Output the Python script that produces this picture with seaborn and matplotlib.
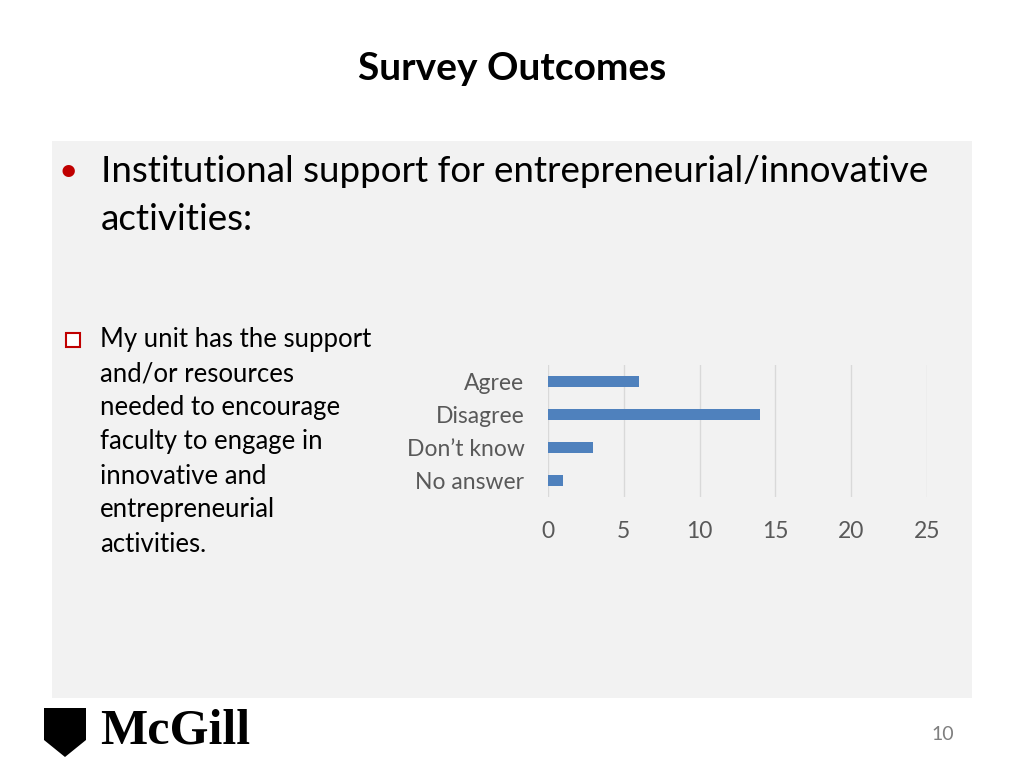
import matplotlib.pyplot as plt
import matplotlib.patches as patches
import seaborn as sns
import pandas as pd

# data
categories = ["Agree", "Disagree", "Don\u2019t know", "No answer"]
counts = [6, 14, 3, 1]
x_ticks = [0, 5, 10, 15, 20, 25]

plt.rcParams["font.family"] = "Lato"
fig = plt.figure(figsize=(10.24, 7.68), dpi=100)
fig.patch.set_facecolor("white")

# grey content panel (kept behind the chart axes)
fig.patches.append(patches.Rectangle((52 / 1024, 1 - 698 / 768), 920 / 1024, 557 / 768,
                                     transform=fig.transFigure, facecolor="#f2f2f2",
                                     edgecolor="none", zorder=-5))

fig.text(0.5, 1 - 68 / 768, "Survey Outcomes", ha="center", va="center",
         fontsize=28, fontweight="bold", color="black")
fig.text(58 / 1024, 1 - 172 / 768, "\u2022", color="#c00000", fontsize=24, va="center")
fig.text(101 / 1024, 1 - 172 / 768, "Institutional support for entrepreneurial/innovative",
         fontsize=26.5, va="center")
fig.text(101 / 1024, 1 - 220 / 768, "activities:", fontsize=26.5, va="center")

# checkbox bullet
fig.patches.append(patches.Rectangle((66 / 1024, 1 - 347 / 768), 14 / 1024, 14 / 768,
                                     transform=fig.transFigure, facecolor="white",
                                     edgecolor="#c00000", linewidth=1.5))
lines = ["My unit has the support", "and/or resources", "needed to encourage",
         "faculty to engage in", "innovative and", "entrepreneurial", "activities."]
for i, t in enumerate(lines):
    fig.text(100 / 1024, 1 - (340 + 34 * i) / 768, t, fontsize=18.5, va="center")

# bar chart
ax = fig.add_axes([548 / 1024, 1 - 497 / 768, 379 / 1024, 132 / 768])
df = pd.DataFrame({"category": categories, "count": counts})
sns.barplot(data=df, x="count", y="category", color="#4f81bd", width=0.36,
            saturation=1, ax=ax, zorder=3)
ax.set_facecolor("#f2f2f2")
ax.set_xlim(0, 25)
ax.set_xticks(x_ticks)
ax.set_xticklabels([str(v) for v in x_ticks], fontsize=16.5, color="#595959")
ax.tick_params(axis="x", length=0, pad=17)
ax.tick_params(axis="y", length=0, pad=17, labelsize=16.5, labelcolor="#595959")
ax.set_xlabel("")
ax.set_ylabel("")
ax.grid(axis="x", color="#d9d9d9", linewidth=1, zorder=0)
ax.set_axisbelow(True)
for s in ax.spines.values():
    s.set_visible(False)

# footer
fig.patches.append(patches.Polygon([(44 / 1024, 1 - 708 / 768), (86 / 1024, 1 - 708 / 768),
                                    (86 / 1024, 1 - 740 / 768), (65 / 1024, 1 - 757 / 768),
                                    (44 / 1024, 1 - 740 / 768)], closed=True,
                                   transform=fig.transFigure, facecolor="black"))
fig.text(100 / 1024, 1 - 732 / 768, "McGill", fontsize=36, fontfamily="Liberation Serif",
         fontweight="bold", va="center")
fig.text(943 / 1024, 1 - 734 / 768, "10", fontsize=14, color="#7f7f7f", ha="center", va="center")

fig.savefig("out.png", dpi=100)
